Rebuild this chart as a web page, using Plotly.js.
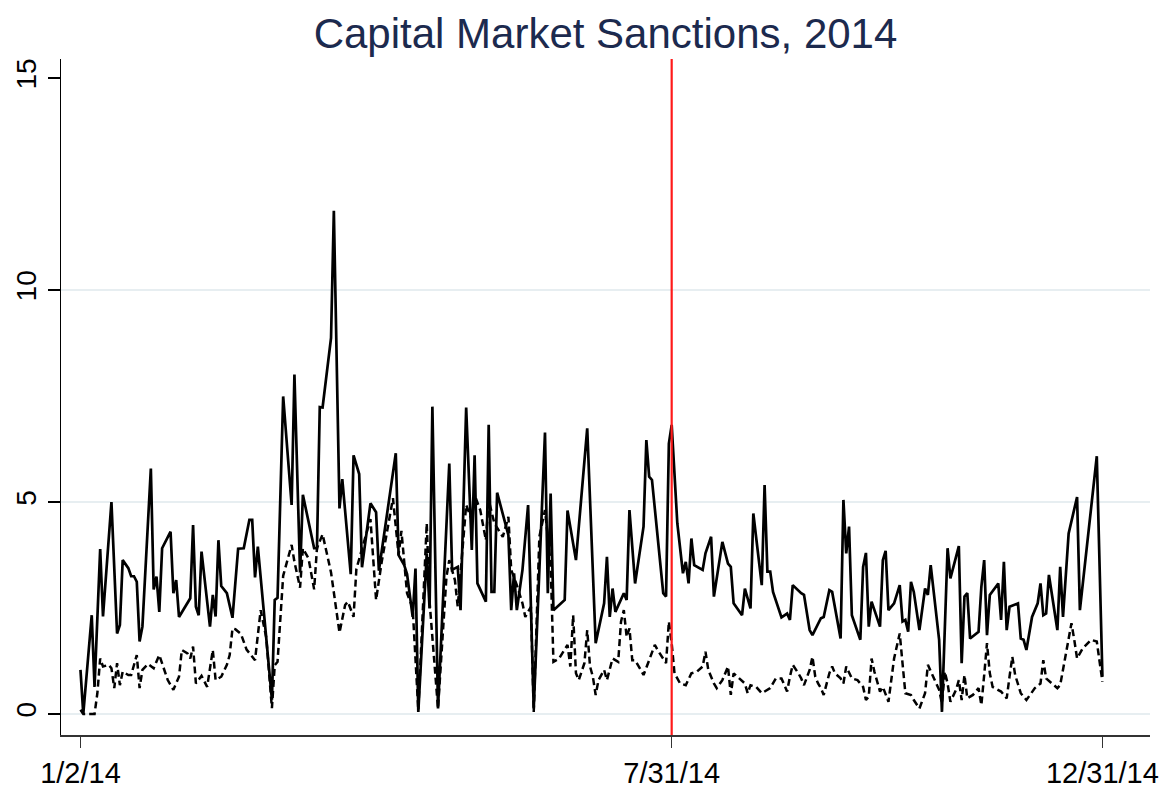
<!DOCTYPE html>
<html>
<head>
<meta charset="utf-8">
<script src="https://cdn.plot.ly/plotly-3.0.1.min.js"></script>
<style>
  html, body { margin: 0; padding: 0; background: #ffffff; }
  #chart { width: 1172px; height: 791px; }
</style>
</head>
<body>
<div id="chart"></div>
<script>
// ---- Data ----
var chartTitle = "Capital Market Sanctions, 2014";

var solidDates = [
"2014-01-02","2014-01-03","2014-01-06","2014-01-07","2014-01-09","2014-01-10","2014-01-13","2014-01-15","2014-01-16","2014-01-17",
"2014-01-19","2014-01-20","2014-01-21","2014-01-22","2014-01-23","2014-01-24","2014-01-27","2014-01-28","2014-01-29","2014-01-30",
"2014-01-31","2014-02-03","2014-02-04","2014-02-05","2014-02-06","2014-02-10","2014-02-11","2014-02-12","2014-02-13","2014-02-14",
"2014-02-17","2014-02-18","2014-02-19","2014-02-20","2014-02-21","2014-02-23","2014-02-25","2014-02-27","2014-03-01","2014-03-03",
"2014-03-04","2014-03-05","2014-03-06","2014-03-11","2014-03-12","2014-03-13","2014-03-15","2014-03-18","2014-03-19","2014-03-21",
"2014-03-22","2014-03-26","2014-03-27","2014-03-28","2014-03-29","2014-04-01","2014-04-02","2014-04-04","2014-04-05","2014-04-08",
"2014-04-09","2014-04-11","2014-04-12","2014-04-15","2014-04-17","2014-04-18","2014-04-24","2014-04-25","2014-04-27","2014-04-28",
"2014-04-30","2014-05-01","2014-05-02","2014-05-05","2014-05-06","2014-05-07","2014-05-09","2014-05-13","2014-05-14","2014-05-16",
"2014-05-17","2014-05-19","2014-05-21","2014-05-22","2014-05-23","2014-05-26","2014-05-27","2014-05-28","2014-05-29","2014-05-30",
"2014-06-03","2014-06-04","2014-06-05","2014-06-06","2014-06-08","2014-06-10","2014-06-12","2014-06-16","2014-06-17","2014-06-18",
"2014-06-19","2014-06-23","2014-06-24","2014-06-27","2014-07-01","2014-07-04","2014-07-07","2014-07-08","2014-07-09","2014-07-10",
"2014-07-11","2014-07-14","2014-07-15","2014-07-16","2014-07-18","2014-07-21","2014-07-22","2014-07-23","2014-07-24","2014-07-28",
"2014-07-29","2014-07-30","2014-07-31","2014-08-02","2014-08-04","2014-08-05","2014-08-06","2014-08-07","2014-08-08","2014-08-11",
"2014-08-12","2014-08-14","2014-08-15","2014-08-18","2014-08-20","2014-08-21","2014-08-22","2014-08-25","2014-08-26","2014-08-28",
"2014-08-29","2014-09-01","2014-09-02","2014-09-03","2014-09-04","2014-09-05","2014-09-08","2014-09-10","2014-09-11","2014-09-12",
"2014-09-15","2014-09-16","2014-09-18","2014-09-19","2014-09-22","2014-09-23","2014-09-25","2014-09-26","2014-09-29","2014-09-30",
"2014-10-01","2014-10-02","2014-10-03","2014-10-06","2014-10-07","2014-10-08","2014-10-09","2014-10-10","2014-10-13","2014-10-14",
"2014-10-15","2014-10-16","2014-10-18","2014-10-20","2014-10-21","2014-10-22","2014-10-23","2014-10-24","2014-10-25","2014-10-27",
"2014-10-29","2014-10-30","2014-10-31","2014-11-03","2014-11-04","2014-11-06","2014-11-07","2014-11-10","2014-11-11","2014-11-12",
"2014-11-13","2014-11-14","2014-11-17","2014-11-18","2014-11-19","2014-11-20","2014-11-21","2014-11-24","2014-11-25","2014-11-26",
"2014-11-27","2014-11-28","2014-12-01","2014-12-02","2014-12-03","2014-12-04","2014-12-06","2014-12-08","2014-12-09","2014-12-10",
"2014-12-11","2014-12-12","2014-12-15","2014-12-16","2014-12-17","2014-12-19","2014-12-22","2014-12-23","2014-12-29","2014-12-31"
];
var solidValues = [
1.04,0.0,2.33,0.64,3.89,2.3,5.0,1.9,2.1,3.63,
3.44,3.25,3.25,3.12,1.71,2.06,5.79,2.94,3.24,2.41,
3.91,4.3,2.85,3.16,2.29,2.73,4.46,2.53,2.33,3.83,
2.06,2.81,2.3,4.1,3.02,2.85,2.27,3.9,3.91,4.58,
4.58,3.22,3.95,0.34,2.69,2.74,7.49,4.93,8.01,3.34,
5.17,3.91,3.91,7.24,7.23,8.87,11.87,4.85,5.54,3.3,
6.1,5.66,3.46,4.97,4.76,3.38,6.15,3.75,3.51,3.3,
2.29,3.43,0.05,3.79,2.49,7.25,0.13,5.91,3.4,3.47,
2.45,7.23,3.87,6.1,3.08,2.65,6.82,2.88,2.88,5.22,
4.22,2.45,3.32,2.45,3.4,4.93,0.13,6.64,2.85,5.2,
2.45,2.69,4.8,3.63,6.74,1.67,2.61,3.71,2.29,2.96,
2.41,2.85,2.69,4.81,3.08,4.42,6.46,5.6,5.52,2.85,
2.77,6.38,6.82,4.5,3.32,3.59,3.08,4.14,3.51,3.4,
3.79,4.18,2.77,4.06,3.55,3.47,2.61,2.33,2.96,2.49,
4.73,3.04,5.4,3.36,3.36,2.88,2.28,2.37,2.22,3.04,
2.85,2.81,1.98,1.86,2.26,2.29,2.92,2.88,1.78,5.05,
3.79,4.42,2.33,1.75,3.47,3.8,2.06,2.65,2.06,3.63,
3.85,2.45,2.61,3.04,2.18,2.22,1.94,3.12,2.88,1.98,
2.96,2.81,3.51,1.75,0.05,3.91,3.2,3.96,1.2,2.77,
2.85,1.78,1.94,3.0,3.63,1.86,2.81,3.08,2.22,3.59,
1.98,2.53,2.61,1.78,1.75,1.51,2.29,2.61,3.08,2.33,
2.37,3.28,1.98,3.47,2.29,4.26,5.12,2.45,6.08,0.88
];

var dashDates = [
"2014-01-02","2014-01-03","2014-01-06","2014-01-07","2014-01-08","2014-01-09","2014-01-10","2014-01-12","2014-01-13","2014-01-14",
"2014-01-15","2014-01-16","2014-01-17","2014-01-19","2014-01-20","2014-01-22","2014-01-23","2014-01-24","2014-01-26","2014-01-28",
"2014-01-30","2014-02-01","2014-02-02","2014-02-04","2014-02-06","2014-02-07","2014-02-09","2014-02-10","2014-02-11","2014-02-12",
"2014-02-14","2014-02-16","2014-02-18","2014-02-19","2014-02-21","2014-02-23","2014-02-24","2014-02-25","2014-02-26","2014-02-28",
"2014-03-02","2014-03-05","2014-03-07","2014-03-09","2014-03-11","2014-03-12","2014-03-13","2014-03-15","2014-03-18","2014-03-19",
"2014-03-21","2014-03-22","2014-03-24","2014-03-26","2014-03-27","2014-03-29","2014-04-01","2014-04-04","2014-04-06","2014-04-07",
"2014-04-09","2014-04-10","2014-04-14","2014-04-15","2014-04-17","2014-04-19","2014-04-23","2014-04-25","2014-04-26","2014-04-27",
"2014-04-28","2014-04-30","2014-05-02","2014-05-05","2014-05-06","2014-05-09","2014-05-12","2014-05-13","2014-05-15","2014-05-16",
"2014-05-19","2014-05-21","2014-05-22","2014-05-24","2014-05-26","2014-05-27","2014-05-29","2014-06-01","2014-06-03","2014-06-04",
"2014-06-06","2014-06-08","2014-06-09","2014-06-11","2014-06-12","2014-06-14","2014-06-16","2014-06-18","2014-06-19","2014-06-21",
"2014-06-24","2014-06-25","2014-06-26","2014-06-27","2014-06-28","2014-06-30","2014-07-01","2014-07-02","2014-07-03","2014-07-04",
"2014-07-05","2014-07-07","2014-07-08","2014-07-10","2014-07-12","2014-07-13","2014-07-14","2014-07-15","2014-07-16","2014-07-17",
"2014-07-18","2014-07-20","2014-07-21","2014-07-23","2014-07-25","2014-07-26","2014-07-29","2014-07-30","2014-07-31","2014-08-01",
"2014-08-03","2014-08-05","2014-08-07","2014-08-09","2014-08-11","2014-08-12","2014-08-13","2014-08-15","2014-08-16","2014-08-18",
"2014-08-20","2014-08-21","2014-08-22","2014-08-24","2014-08-26","2014-08-27","2014-08-28","2014-08-30","2014-09-01","2014-09-04",
"2014-09-06","2014-09-08","2014-09-09","2014-09-10","2014-09-11","2014-09-12","2014-09-14","2014-09-15","2014-09-16","2014-09-18",
"2014-09-19","2014-09-20","2014-09-21","2014-09-22","2014-09-23","2014-09-25","2014-09-26","2014-09-27","2014-09-29","2014-09-30",
"2014-10-01","2014-10-03","2014-10-05","2014-10-07","2014-10-08","2014-10-09","2014-10-10","2014-10-11","2014-10-13","2014-10-14",
"2014-10-16","2014-10-17","2014-10-18","2014-10-20","2014-10-21","2014-10-22","2014-10-24","2014-10-25","2014-10-27","2014-10-29",
"2014-10-30","2014-11-01","2014-11-03","2014-11-04","2014-11-05","2014-11-06","2014-11-07","2014-11-09","2014-11-10","2014-11-11",
"2014-11-12","2014-11-13","2014-11-15","2014-11-17","2014-11-18","2014-11-19","2014-11-20","2014-11-21","2014-11-22","2014-11-25",
"2014-11-27","2014-11-28","2014-11-29","2014-11-30","2014-12-02","2014-12-04","2014-12-07","2014-12-09","2014-12-10","2014-12-11",
"2014-12-13","2014-12-15","2014-12-16","2014-12-18","2014-12-20","2014-12-21","2014-12-22","2014-12-24","2014-12-27","2014-12-29",
"2014-12-30","2014-12-31"
];
var dashValues = [
0.1,0.0,0.0,0.0,0.49,1.31,1.12,1.16,1.08,0.61,
1.2,0.68,1.0,0.92,0.92,1.39,0.61,1.04,1.18,1.08,
1.39,1.0,0.8,0.57,0.88,1.51,1.43,1.31,1.59,0.72,
0.9,0.64,1.51,0.8,0.88,1.16,1.39,2.02,2.0,1.89,
1.52,1.27,2.45,1.8,0.14,1.15,1.23,3.26,3.99,3.59,
2.98,3.91,3.67,2.94,3.91,4.24,3.34,1.92,2.57,2.65,
2.29,3.42,4.4,4.6,2.69,3.59,5.09,3.75,4.32,3.59,
2.85,2.5,0.09,4.5,2.65,0.13,3.24,3.63,3.16,2.53,
4.93,4.58,5.17,4.81,4.1,5.05,4.5,4.18,4.65,3.4,
3.04,2.61,2.29,2.53,0.05,4.18,4.81,3.55,1.23,1.31,
1.63,1.12,2.33,0.96,0.8,1.2,1.98,1.12,0.88,0.45,
0.8,1.04,0.8,1.31,1.23,2.18,2.45,1.82,2.02,1.27,
1.27,1.04,0.92,1.27,1.63,1.51,1.2,2.18,1.67,0.96,
0.72,0.68,0.96,1.0,1.12,1.47,1.04,0.72,0.61,0.8,
1.12,0.45,0.96,0.84,0.72,0.49,0.68,0.64,0.49,0.61,
0.84,0.84,0.68,0.53,0.88,1.16,0.96,0.84,0.68,1.04,
1.35,0.88,0.72,0.61,0.45,0.96,1.12,0.96,0.84,0.72,
1.12,0.84,0.8,0.64,0.33,0.41,1.31,1.0,0.53,0.64,
0.29,0.76,1.31,1.9,1.23,0.49,0.45,0.33,0.13,0.49,
1.16,0.88,0.57,0.25,1.0,0.72,0.29,0.57,0.8,0.33,
0.92,0.37,0.45,0.61,0.21,0.92,1.67,0.96,0.64,0.53,
0.37,0.88,1.35,0.92,0.49,0.33,0.61,0.72,1.27,0.84,
0.72,0.61,0.68,1.39,2.14,1.75,1.31,1.55,1.75,1.71,
1.27,0.76
];

var xTickDates = ["2014-01-02", "2014-07-31", "2014-12-31"];
var xTickLabels = ["1/2/14", "7/31/14", "12/31/14"];
var yTickValues = [0, 5, 10, 15];
var yTickLabels = ["0", "5", "10", "15"];
var gridValues = [0, 5, 10];
var eventDate = "2014-07-31";

// ---- Traces ----
var traces = [
  {
    x: dashDates, y: dashValues, type: "scatter", mode: "lines",
    line: { color: "#000000", width: 2.5, dash: "7px,4px" },
    hoverinfo: "x+y", showlegend: false
  },
  {
    x: solidDates, y: solidValues, type: "scatter", mode: "lines",
    line: { color: "#000000", width: 2.7 },
    hoverinfo: "x+y", showlegend: false
  }
];

var shapes = gridValues.map(function (g) {
  return {
    type: "line", xref: "paper", x0: 0, x1: 1, yref: "y", y0: g, y1: g,
    line: { color: "#dfe9ec", width: 1.4 }, layer: "below"
  };
});
shapes.push({
  type: "line", xref: "x", x0: eventDate, x1: eventDate, yref: "paper", y0: 0, y1: 1,
  line: { color: "#ff1a1a", width: 2.2 }, layer: "above"
});

var font = "Liberation Sans, Arial, Helvetica, sans-serif";

var layout = {
  width: 1172, height: 791,
  paper_bgcolor: "#ffffff", plot_bgcolor: "#ffffff",
  margin: { l: 61, r: 22, t: 59, b: 56 },
  font: { family: font, color: "#000000" },
  title: {
    text: chartTitle,
    font: { family: font, size: 42, color: "#1c2a4e" },
    x: 0.5, xref: "paper", xanchor: "center",
    y: 0.958, yref: "container", yanchor: "middle"
  },
  showlegend: false,
  xaxis: {
    type: "date",
    range: ["2013-12-26 02:00", "2015-01-16 21:36"],
    tickmode: "array", tickvals: xTickDates, ticktext: xTickLabels,
    ticks: "outside", ticklen: 11, tickwidth: 1.5, tickcolor: "#333333",
    showline: true, linecolor: "#333333", linewidth: 2,
    showgrid: false, zeroline: false,
    tickfont: { family: font, size: 29, color: "#000000" }
  },
  yaxis: {
    range: [-0.495, 15.45],
    tickmode: "array", tickvals: yTickValues, ticktext: yTickLabels,
    tickangle: -90,
    ticks: "outside", ticklen: 12, tickwidth: 1.5, tickcolor: "#000000",
    showline: true, linecolor: "#000000", linewidth: 1.5,
    showgrid: false, zeroline: false,
    tickfont: { family: font, size: 28, color: "#000000" }
  },
  shapes: shapes
};

Plotly.newPlot("chart", traces, layout, { displayModeBar: false, staticPlot: true });
</script>
</body>
</html>
